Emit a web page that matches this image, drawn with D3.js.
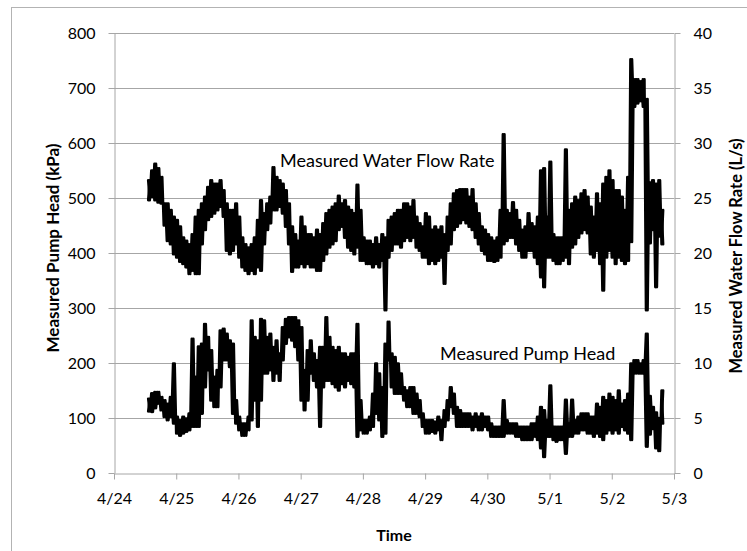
<!DOCTYPE html>
<html>
<head>
<meta charset="utf-8">
<script src="https://cdn.jsdelivr.net/npm/d3@7/dist/d3.min.js"></script>
<style>
  body { margin: 0; background: #ffffff; }
  svg { display: block; }
  text { font-family: Lato, "Noto Sans", "DejaVu Sans", sans-serif; fill: #000; }
</style>
</head>
<body>
<svg id="chart" width="747" height="551"></svg>
<script>
// Calendar days on the time axis (day 0 = 4/24, 00:00)
const dayLabels = ["4/24", "4/25", "4/26", "4/27", "4/28", "4/29", "4/30", "5/1", "5/2", "5/3"];
const headTicks = [0, 100, 200, 300, 400, 500, 600, 700, 800];
const flowTicks = [0, 5, 10, 15, 20, 25, 30, 35, 40];

// Logger samples: one envelope (low / high) per 0.05-day interval
const firstSampleDay = 0.55;
const sampleStepDays = 0.05;

// Measured water flow rate envelope (L/s)
const flowHigh = [
  26.6, 27.5, 28.1, 27.7, 26.9, 24.5, 24.5, 23.9, 23.3, 23.0,
  22.4, 21.4, 21.1, 20.8, 21.7, 23.3, 23.9, 24.5, 25.1, 26.0,
  26.6, 26.3, 26.3, 26.6, 25.7, 24.5, 23.9, 23.9, 24.5, 23.3,
  21.4, 20.8, 20.5, 20.8, 21.4, 23.0, 24.8, 23.6, 24.5, 25.1,
  27.8, 26.9, 26.6, 26.3, 25.7, 24.5, 22.4, 21.7, 21.1, 23.3,
  22.4, 21.7, 21.7, 21.4, 22.1, 21.7, 22.7, 23.6, 23.9, 24.2,
  24.5, 25.2, 24.5, 24.8, 24.2, 23.9, 23.6, 26.2, 23.9, 21.4,
  21.1, 21.1, 20.8, 21.4, 20.8, 21.7, 21.4, 23.0, 23.3, 23.6,
  23.9, 23.9, 24.5, 24.5, 24.2, 24.8, 23.3, 22.7, 22.4, 23.6,
  23.3, 22.1, 22.4, 22.1, 22.4, 21.7, 23.3, 24.5, 25.4, 25.7,
  25.8, 25.8, 25.8, 25.1, 25.8, 24.5, 23.6, 22.4, 22.1, 21.7,
  21.4, 21.1, 21.4, 23.9, 30.8, 23.9, 23.6, 24.6, 23.9, 23.0,
  22.1, 22.4, 23.6, 22.7, 22.4, 23.3, 27.5, 27.7, 23.3, 28.3,
  21.7, 21.4, 21.4, 21.4, 29.4, 23.9, 24.5, 25.1, 24.8, 25.4,
  25.7, 25.1, 24.2, 23.3, 25.4, 24.5, 26.3, 26.9, 27.5, 26.6,
  25.7, 25.7, 25.1, 23.9, 26.9, 37.6, 35.8, 35.8, 35.6, 35.8,
  34.0, 26.4, 26.6, 26.3, 26.6, 23.9
];
const flowLow = [
  24.8, 25.1, 24.8, 24.6, 24.5, 22.5, 21.1, 20.8, 19.9, 19.6,
  19.2, 19.0, 18.7, 18.1, 18.4, 18.1, 18.1, 20.8, 22.1, 23.0,
  23.3, 23.6, 23.9, 24.2, 23.3, 20.2, 19.9, 20.2, 20.8, 19.6,
  18.7, 18.4, 18.1, 18.4, 18.1, 18.7, 18.4, 20.8, 22.1, 22.7,
  23.9, 23.9, 24.2, 23.6, 22.4, 20.8, 18.3, 18.7, 18.7, 19.0,
  18.7, 19.0, 18.7, 18.7, 18.4, 18.4, 19.3, 19.9, 20.5, 20.8,
  21.1, 22.1, 22.4, 21.4, 20.5, 20.2, 19.9, 20.5, 19.3, 19.3,
  19.0, 19.0, 18.7, 19.0, 18.7, 19.3, 14.8, 19.6, 20.2, 20.8,
  20.8, 20.5, 21.1, 21.4, 21.1, 21.4, 20.5, 20.2, 19.6, 19.6,
  19.0, 19.3, 19.0, 19.3, 19.6, 17.2, 20.2, 20.8, 22.1, 22.4,
  22.7, 23.0, 22.7, 22.4, 22.1, 21.4, 20.8, 20.2, 19.9, 19.3,
  19.3, 19.2, 19.3, 19.6, 20.8, 21.1, 21.4, 21.4, 20.8, 20.2,
  19.6, 19.6, 20.2, 20.2, 19.6, 19.0, 17.8, 16.9, 19.6, 19.6,
  19.3, 19.0, 19.0, 19.3, 19.6, 19.0, 20.5, 20.8, 21.4, 21.8,
  22.1, 21.8, 19.9, 19.6, 20.2, 19.0, 16.6, 19.6, 20.2, 19.6,
  19.0, 19.6, 19.3, 19.0, 19.3, 21.0, 33.3, 33.6, 33.8, 33.3,
  14.8, 20.9, 22.1, 16.9, 21.5, 20.8
];

// Measured pump head envelope (kPa)
const headHigh = [
  135, 145, 147, 147, 138, 132, 126, 138, 199, 102,
  96, 102, 99, 108, 244, 175, 230, 235, 271, 247,
  223, 175, 187, 259, 262, 253, 241, 235, 132, 102,
  90, 90, 102, 277, 247, 241, 280, 277, 247, 253,
  229, 241, 217, 265, 280, 283, 283, 283, 277, 265,
  187, 223, 241, 217, 205, 229, 229, 283, 247, 229,
  223, 229, 217, 217, 211, 217, 217, 271, 132, 96,
  96, 102, 144, 199, 181, 156, 235, 275, 217, 211,
  199, 181, 156, 150, 156, 156, 144, 132, 108, 96,
  96, 96, 93, 102, 96, 114, 132, 156, 144, 120,
  114, 108, 108, 108, 102, 108, 102, 108, 102, 102,
  90, 84, 84, 84, 132, 96, 90, 90, 90, 84,
  84, 84, 84, 90, 90, 102, 120, 114, 96, 159,
  84, 84, 84, 84, 133, 90, 133, 96, 102, 108,
  108, 108, 102, 102, 126, 120, 138, 132, 144, 138,
  132, 150, 126, 132, 144, 199, 205, 205, 199, 205,
  253, 140, 120, 110, 100, 150
];
const headLow = [
  112, 111, 118, 126, 114, 102, 96, 102, 90, 72,
  68, 72, 75, 78, 84, 84, 84, 108, 156, 187,
  132, 120, 120, 156, 205, 205, 193, 108, 90, 78,
  68, 68, 78, 96, 132, 84, 132, 181, 181, 187,
  168, 181, 168, 205, 235, 247, 241, 229, 205, 132,
  114, 132, 181, 168, 156, 84, 156, 168, 168, 162,
  156, 150, 162, 156, 168, 162, 156, 66, 78, 72,
  72, 78, 84, 108, 96, 66, 72, 205, 156, 144,
  144, 144, 132, 120, 120, 108, 108, 102, 84, 72,
  72, 75, 72, 78, 60, 84, 96, 120, 108, 84,
  84, 84, 84, 84, 78, 84, 78, 78, 84, 78,
  66, 66, 66, 66, 66, 72, 72, 72, 66, 66,
  60, 60, 60, 60, 66, 60, 45, 29, 66, 66,
  60, 57, 60, 60, 35, 66, 66, 72, 72, 78,
  78, 72, 72, 66, 72, 66, 60, 72, 78, 72,
  78, 72, 84, 78, 72, 60, 181, 181, 181, 181,
  48, 70, 80, 45, 40, 90
];

const svg = d3.select("#chart");
const W = 747, H = 551;
const plot = { left: 114, right: 674, top: 33, bottom: 473 };
const gridColor = "#a6a6a6";

// Outer chart frame
svg.append("rect")
  .attr("x", 11.5).attr("y", 7.5)
  .attr("width", W).attr("height", H)
  .attr("fill", "none").attr("stroke", "#b3b3b3").attr("stroke-width", 1);

const x = d3.scaleLinear().domain([0, dayLabels.length - 1]).range([plot.left, plot.right]);
const yHead = d3.scaleLinear().domain([0, 800]).range([plot.bottom, plot.top]);
const yFlow = d3.scaleLinear().domain([0, 40]).range([plot.bottom, plot.top]);

// Horizontal gridlines
svg.append("g")
  .selectAll("line")
  .data(headTicks.filter(d => d > 0))
  .join("line")
  .attr("x1", plot.left).attr("x2", plot.right)
  .attr("y1", d => Math.round(yHead(d)) + 0.5).attr("y2", d => Math.round(yHead(d)) + 0.5)
  .attr("stroke", gridColor).attr("stroke-width", 1);

function styleAxis(g) {
  g.select(".domain").attr("stroke", gridColor);
  g.selectAll(".tick line").attr("stroke", gridColor);
  g.selectAll(".tick text").attr("font-size", 16).attr("font-family", "Lato, 'Noto Sans', sans-serif").attr("fill", "#000");
}

// Left axis: pump head
svg.append("g")
  .attr("transform", `translate(${plot.left + 0.5},0)`)
  .call(d3.axisLeft(yHead).tickValues(headTicks).tickSize(6).tickSizeOuter(0).tickPadding(13))
  .call(styleAxis);

// Right axis: flow rate
svg.append("g")
  .attr("transform", `translate(${plot.right + 0.5},0)`)
  .call(d3.axisRight(yFlow).tickValues(flowTicks).tickSize(6).tickSizeOuter(0).tickPadding(13))
  .call(styleAxis);

// Bottom axis: days
svg.append("g")
  .attr("transform", `translate(0,${plot.bottom + 0.5})`)
  .call(d3.axisBottom(x).tickValues(d3.range(dayLabels.length)).tickFormat(i => dayLabels[i])
    .tickSize(6).tickSizeOuter(0).tickPadding(13))
  .call(styleAxis);

// Envelope traces: within each interval the reading swings between its low and high
// values; two crossing passes (low→high and high→low) fill the band.
function envelope(low, high, rising) {
  const pts = [];
  low.forEach((lo, i) => {
    const t = firstSampleDay + i * sampleStepDays;
    const a = rising ? lo : high[i];
    const b = rising ? high[i] : lo;
    pts.push([t, a]);
    pts.push([t + sampleStepDays / 2, b]);
  });
  return pts;
}

const traceStyle = g => g.attr("fill", "none").attr("stroke", "#000")
  .attr("stroke-width", 2.6).attr("stroke-linejoin", "round").attr("stroke-linecap", "round");

[true, false].forEach(rising => {
  svg.append("path")
    .datum(envelope(flowLow, flowHigh, rising))
    .attr("d", d3.line().x(d => x(d[0])).y(d => yFlow(d[1])))
    .call(traceStyle);

  svg.append("path")
    .datum(envelope(headLow, headHigh, rising))
    .attr("d", d3.line().x(d => x(d[0])).y(d => yHead(d[1])))
    .call(traceStyle);
});

// Series annotations
svg.append("text").attr("x", 280).attr("y", 167).attr("font-size", 18)
  .text("Measured Water Flow Rate");
svg.append("text").attr("x", 440).attr("y", 360).attr("font-size", 18)
  .text("Measured Pump Head");

// Axis titles
svg.append("text")
  .attr("x", (plot.left + plot.right) / 2).attr("y", 541)
  .attr("text-anchor", "middle").attr("font-size", 16).attr("font-weight", "bold")
  .text("Time");

svg.append("text")
  .attr("transform", "translate(59,248) rotate(-90)")
  .attr("text-anchor", "middle").attr("font-size", 17).attr("font-weight", "bold")
  .text("Measured Pump Head (kPa)");

svg.append("text")
  .attr("transform", "translate(742,256) rotate(-90)")
  .attr("text-anchor", "middle").attr("font-size", 16.5).attr("font-weight", "bold")
  .text("Measured Water Flow Rate (L/s)");
</script>
</body>
</html>
